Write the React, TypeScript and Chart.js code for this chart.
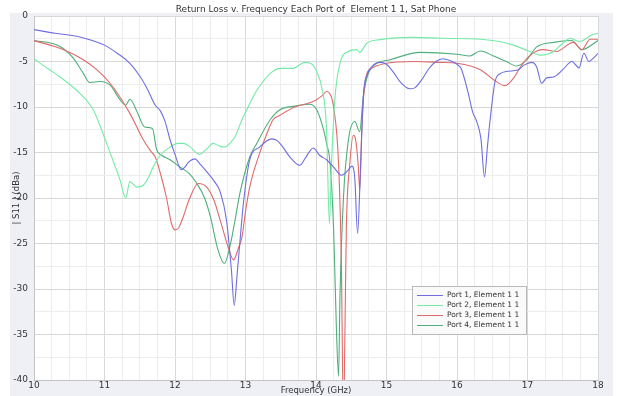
import { useEffect, useRef } from "react";
import { Chart, registerables } from "chart.js";

Chart.register(...registerables);

// Return loss (dB) against frequency (GHz) for each port
const port1Freq = [10.0, 10.3, 10.65, 11.0, 11.2, 11.36, 11.5, 11.6, 11.72, 11.79, 11.86, 11.93, 12.0, 12.09, 12.13, 12.2, 12.28, 12.36, 12.47, 12.56, 12.64, 12.73, 12.8, 12.84, 12.88, 12.93, 12.97, 13.06, 13.2, 13.37, 13.45, 13.51, 13.63, 13.77, 13.85, 13.96, 14.05, 14.15, 14.25, 14.36, 14.45, 14.51, 14.55, 14.59, 14.63, 14.67, 14.72, 14.8, 14.91, 15.0, 15.1, 15.2, 15.33, 15.4, 15.5, 15.6, 15.7, 15.8, 15.9, 16.0, 16.06, 16.16, 16.22, 16.28, 16.34, 16.39, 16.43, 16.47, 16.54, 16.62, 16.7, 16.87, 16.95, 17.06, 17.13, 17.2, 17.27, 17.37, 17.5, 17.63, 17.73, 17.8, 17.87, 17.93, 18.0];
const port1Loss = [-1.5, -1.9, -2.3, -3.2, -4.2, -5.2, -6.6, -7.9, -9.8, -10.4, -11.6, -13.6, -15.2, -16.9, -16.7, -16.0, -15.7, -16.3, -17.3, -18.2, -19.3, -22.4, -27.9, -31.8, -28.5, -24.0, -20.6, -15.8, -14.4, -13.5, -13.7, -14.2, -15.5, -16.4, -15.6, -14.5, -15.3, -15.8, -16.6, -17.5, -17.0, -16.5, -17.8, -23.9, -17.0, -8.9, -6.6, -5.5, -5.1, -5.3, -6.2, -7.3, -8.0, -7.9, -7.0, -5.8, -5.0, -4.7, -4.9, -5.3, -5.8, -8.5, -10.5, -11.6, -13.5, -17.7, -14.5, -11.4, -7.2, -6.3, -6.1, -5.9, -5.4, -5.1, -5.6, -7.4, -6.8, -6.7, -5.9, -5.0, -5.7, -4.1, -5.0, -4.65, -4.1];

const port2Freq = [10.0, 10.2, 10.37, 10.65, 10.84, 11.03, 11.15, 11.22, 11.3, 11.36, 11.46, 11.55, 11.62, 11.69, 11.79, 11.93, 12.04, 12.12, 12.2, 12.35, 12.45, 12.54, 12.63, 12.71, 12.8, 12.85, 12.95, 13.05, 13.15, 13.25, 13.35, 13.49, 13.68, 13.76, 13.84, 13.92, 13.96, 14.02, 14.08, 14.15, 14.19, 14.22, 14.27, 14.34, 14.46, 14.58, 14.62, 14.72, 14.91, 15.38, 15.8, 16.33, 16.6, 16.8, 17.0, 17.18, 17.37, 17.5, 17.61, 17.74, 17.91, 18.0];
const port2Loss = [-4.7, -5.8, -6.7, -8.5, -10.3, -14.0, -16.5, -18.0, -20.0, -18.2, -18.8, -18.6, -17.8, -16.6, -15.3, -14.4, -14.0, -14.0, -14.3, -15.2, -14.6, -14.0, -14.3, -14.4, -13.8, -13.3, -11.4, -9.8, -8.3, -7.2, -6.3, -5.75, -5.75, -5.4, -5.1, -5.2, -5.4, -6.3, -7.8, -12.5, -22.8, -16.2, -8.9, -5.2, -3.9, -3.7, -4.0, -3.0, -2.6, -2.35, -2.45, -2.55, -2.8, -3.2, -3.8, -4.3, -3.9, -3.0, -2.45, -2.8, -2.1, -1.9];

const port3Freq = [10.0, 10.42, 10.7, 10.89, 11.12, 11.36, 11.55, 11.65, 11.72, 11.8, 11.88, 11.95, 12.0, 12.05, 12.12, 12.2, 12.33, 12.45, 12.55, 12.64, 12.75, 12.83, 12.9, 12.95, 13.0, 13.06, 13.2, 13.3, 13.39, 13.49, 13.7, 13.96, 14.08, 14.15, 14.2, 14.25, 14.32, 14.36, 14.39, 14.41, 14.43, 14.48, 14.53, 14.56, 14.6, 14.62, 14.65, 14.7, 14.79, 15.0, 15.38, 15.76, 16.0, 16.33, 16.52, 16.68, 16.8, 16.9, 17.04, 17.22, 17.41, 17.65, 17.77, 17.89, 18.0];
const port3Loss = [-2.7, -3.7, -4.8, -5.9, -7.8, -10.7, -13.6, -14.8, -15.5, -17.5, -20.0, -22.8, -23.5, -23.3, -22.0, -20.2, -18.4, -18.8, -20.2, -22.4, -25.3, -26.8, -25.5, -24.3, -21.5, -18.8, -15.1, -13.0, -11.4, -10.9, -10.0, -9.4, -8.8, -8.3, -8.6, -10.0, -16.2, -27.2, -45.0, -35.0, -23.5, -16.2, -13.1, -13.5, -16.5, -19.1, -12.5, -7.0, -5.75, -5.2, -5.0, -5.1, -5.2, -5.9, -7.0, -7.65, -6.85, -5.6, -4.3, -3.7, -3.9, -2.9, -3.7, -2.55, -2.55];

const port4Freq = [10.0, 10.3, 10.42, 10.56, 10.7, 10.79, 10.94, 11.08, 11.22, 11.3, 11.36, 11.46, 11.57, 11.68, 11.74, 11.81, 11.93, 12.07, 12.2, 12.31, 12.42, 12.5, 12.61, 12.7, 12.78, 12.85, 12.92, 13.06, 13.16, 13.35, 13.49, 13.7, 13.91, 14.01, 14.1, 14.15, 14.2, 14.25, 14.29, 14.32, 14.34, 14.39, 14.46, 14.55, 14.62, 14.67, 14.77, 15.05, 15.48, 16.0, 16.18, 16.33, 16.52, 16.7, 16.85, 16.99, 17.13, 17.37, 17.63, 17.77, 18.0];
const port4Loss = [-2.7, -3.1, -3.6, -4.65, -6.3, -7.3, -7.2, -7.6, -9.2, -9.8, -9.15, -10.5, -12.2, -12.35, -14.7, -15.3, -15.8, -16.6, -17.3, -18.4, -20.0, -22.0, -25.7, -27.2, -25.3, -22.5, -19.5, -15.5, -14.0, -11.4, -10.3, -9.9, -9.7, -10.3, -12.3, -14.0, -16.2, -23.5, -34.5, -39.6, -30.8, -19.9, -13.6, -11.6, -12.7, -8.9, -5.9, -4.8, -4.0, -4.2, -4.4, -3.85, -4.4, -5.0, -5.5, -4.8, -3.4, -2.9, -2.7, -3.7, -2.7];

const seriesLabels = ["Port 1, Element 1 1", "Port 2, Element 1 1", "Port 3, Element 1 1", "Port 4, Element 1 1"];
const seriesColors = ["#6e6ee0", "#74eaa6", "#e06a6a", "#4fae7c"];

const chartTitle = "Return Loss v. Frequency Each Port of  Element 1 1, Sat Phone";
const xAxisTitle = "Frequency (GHz)";
const yAxisTitle = "| S11 | (dBa)";

const toPoints = (freq: number[], loss: number[]) => freq.map((f, i) => ({ x: f, y: loss[i] }));

const FONT = "'DejaVu Sans', sans-serif";
const TEXT = "#333333";

const framePlugin = {
  id: "frame",
  beforeDraw(chart: any) {
    const { ctx, chartArea: a, width, height } = chart;
    ctx.save();
    ctx.fillStyle = "#ffffff";
    ctx.fillRect(0, 0, width, height);
    ctx.fillStyle = "#eff0f6";
    ctx.fillRect(10, 13, width - 18, height - 13);
    ctx.fillStyle = "#ffffff";
    ctx.fillRect(a.left, a.top, a.right - a.left, a.bottom - a.top);
    ctx.restore();
  },
  afterDraw(chart: any) {
    const { ctx, chartArea: a } = chart;
    ctx.save();
    ctx.fillStyle = TEXT;
    ctx.textAlign = "center";
    ctx.textBaseline = "middle";
    ctx.font = `9px ${FONT}`;
    ctx.fillText(chartTitle, (a.left + a.right) / 2, 10);
    ctx.font = `8.5px ${FONT}`;
    ctx.fillText(xAxisTitle, (a.left + a.right) / 2, 391);
    ctx.translate(17, (a.top + a.bottom) / 2);
    ctx.rotate(-Math.PI / 2);
    ctx.fillText(yAxisTitle, 0, 0);
    ctx.restore();

    // legend box
    const bx = 412, by = 286, bw = 114, bh = 48;
    ctx.save();
    ctx.fillStyle = "rgba(250,250,250,0.95)";
    ctx.fillRect(bx, by, bw, bh);
    ctx.strokeStyle = "#b9b9b9";
    ctx.lineWidth = 1;
    ctx.strokeRect(bx + 0.5, by + 0.5, bw, bh);
    ctx.font = `7.5px ${FONT}`;
    ctx.textAlign = "left";
    ctx.textBaseline = "middle";
    seriesLabels.forEach((label, i) => {
      const y = by + 9 + i * 10;
      ctx.fillStyle = seriesColors[i];
      ctx.fillRect(417, y, 26, 1);
      ctx.fillStyle = TEXT;
      ctx.fillText(label, 447, y + 0.5);
    });
    ctx.restore();
  },
};

export default function App() {
  const canvasRef = useRef<HTMLCanvasElement | null>(null);

  useEffect(() => {
    if (!canvasRef.current) return;
    const series = [
      toPoints(port1Freq, port1Loss),
      toPoints(port2Freq, port2Loss),
      toPoints(port3Freq, port3Loss),
      toPoints(port4Freq, port4Loss),
    ];
    const chart = new Chart(canvasRef.current, {
      type: "line",
      data: {
        datasets: series.map((data, i) => ({
          label: seriesLabels[i],
          data,
          borderColor: seriesColors[i],
          backgroundColor: seriesColors[i],
          borderWidth: 1.1,
          pointRadius: 0,
          cubicInterpolationMode: "monotone" as const,
          fill: false,
        })),
      },
      options: {
        responsive: false,
        animation: false,
        devicePixelRatio: 1,
        layout: { padding: { top: 16, right: 23, left: 0, bottom: 0 } },
        plugins: {
          legend: { display: false },
          title: { display: false },
          tooltip: { enabled: false },
        },
        scales: {
          x: {
            type: "linear",
            min: 10,
            max: 18,
            afterFit: (s: any) => {
              s.height = 16;
            },
            ticks: {
              stepSize: 0.25,
              autoSkip: false,
              maxRotation: 0,
              padding: 0,
              color: TEXT,
              font: { family: FONT, size: 9 },
              callback: (v: any) => (Number.isInteger(v) ? String(v) : ""),
            },
            grid: {
              drawTicks: false,
              color: (c: any) => (Number.isInteger(c.tick?.value) ? "#d8d8d8" : "#ededed"),
            },
            border: { color: "#c4c4c4" },
          },
          y: {
            type: "linear",
            min: -40,
            max: 0,
            afterFit: (s: any) => {
              s.width = 34;
            },
            ticks: {
              stepSize: 2.5,
              autoSkip: false,
              padding: 6,
              color: TEXT,
              font: { family: FONT, size: 9 },
              callback: (v: any) => (v % 5 === 0 ? String(v) : ""),
            },
            grid: {
              drawTicks: false,
              color: (c: any) => (c.tick && c.tick.value % 5 === 0 ? "#d8d8d8" : "#ededed"),
            },
            border: { color: "#c4c4c4" },
          },
        },
      },
      plugins: [framePlugin],
    });
    return () => chart.destroy();
  }, []);

  return (
    <div style={{ position: "fixed", left: 0, top: 0, width: 621, height: 396 }}>
      <canvas ref={canvasRef} width={621} height={396} style={{ display: "block" }} />
    </div>
  );
}
